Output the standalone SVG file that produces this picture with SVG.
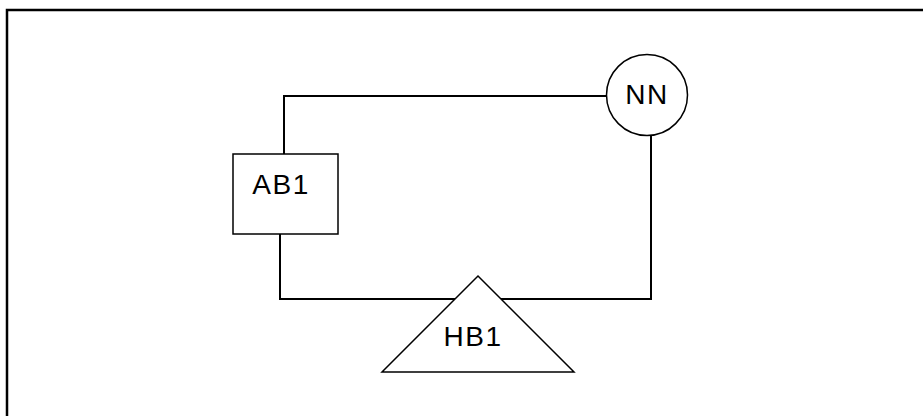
<svg xmlns="http://www.w3.org/2000/svg" width="923" height="416" viewBox="0 0 923 416">
<style>
.shape{fill:#fff;stroke:#000;stroke-width:1.5}
.wire{fill:none;stroke:#000;stroke-width:2}
.frame{fill:none;stroke:#000;stroke-width:2.5}
.lbl{font-family:"Liberation Sans",Arial,sans-serif;font-size:28px;fill:#000;text-anchor:middle;letter-spacing:1.5px}
</style>
<rect width="923" height="416" fill="#fff"/>
<path class="frame" d="M7 416 V10 H923"/>
<g id="connectors">
<path class="wire" d="M284 154 V96 H607"/>
<path class="wire" d="M280 234 V299 H455"/>
<path class="wire" d="M500 299 H651 V136"/>
</g>
<g id="AB1">
<rect class="shape" x="233" y="154" width="105" height="80"/>
<text class="lbl" x="281" y="194">AB1</text>
</g>
<g id="NN">
<circle class="shape" cx="647" cy="95" r="40.5"/>
<text class="lbl" x="647" y="104">NN</text>
</g>
<g id="HB1">
<polygon class="shape" points="478,276 574,372 382,372"/>
<text class="lbl" x="473" y="346">HB1</text>
</g>
</svg>
